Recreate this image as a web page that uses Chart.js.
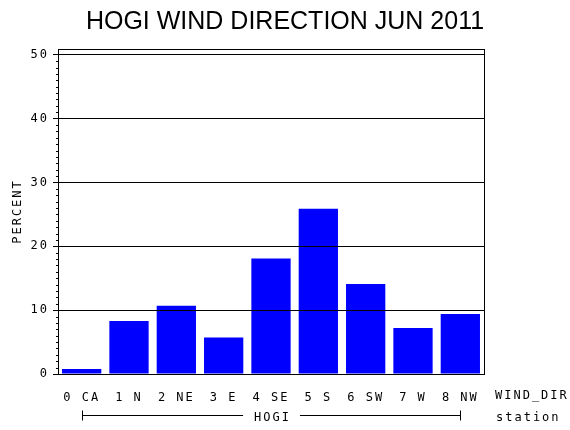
<!DOCTYPE html>
<html>
<head>
<meta charset="utf-8">
<script src="https://cdn.jsdelivr.net/npm/chart.js@4"></script>
<style>
html,body{margin:0;padding:0;background:#fff;}
#wrap{width:570px;height:430px;position:relative;}
</style>
</head>
<body>
<div id="wrap"><canvas id="c"></canvas></div>
<script>
const categories = ['0 CA','1 N','2 NE','3 E','4 SE','5 S','6 SW','7 W','8 NW'];
const percentValues = [0.8, 8.3, 10.7, 5.7, 18.1, 25.9, 14.1, 7.2, 9.4];
const titleText = 'HOGI WIND DIRECTION JUN 2011';
const yAxisTitle = 'PERCENT';
const xAxisName = 'WIND_DIR';
const groupName = 'HOGI';
const groupAxisName = 'station';

const MONO = "'DejaVu Sans Mono', 'Liberation Mono', monospace";

const decorPlugin = {
  id: 'decor',
  beforeDraw(chart) {
    chart.ctx.letterSpacing = '0px';
  },
  afterDatasetsDraw(chart) {
    chart.ctx.letterSpacing = '2px';
  },
  afterDraw(chart) {
    const ctx = chart.ctx;
    const ca = chart.chartArea;
    const y = chart.scales.y;
    const x = chart.scales.x;
    ctx.save();
    ctx.letterSpacing = '2px';
    ctx.strokeStyle = '#000';
    ctx.lineWidth = 1;
    ctx.beginPath();
    // top frame line
    const ty = Math.round(ca.top) + 0.5;
    ctx.moveTo(ca.left, ty);
    ctx.lineTo(ca.right, ty);
    // minor ticks every 1 unit
    for (let v = 1; v < 50; v++) {
      if (v % 10 === 0) continue;
      const py = Math.round(y.getPixelForValue(v)) + 0.5;
      ctx.moveTo(ca.left - 2, py);
      ctx.lineTo(ca.left, py);
    }
    ctx.stroke();
    ctx.fillStyle = '#000';
    ctx.font = '12px ' + MONO;
    ctx.textBaseline = 'middle';
    ctx.textAlign = 'left';
    ctx.fillText(xAxisName, ca.right + 11, ca.bottom + 22);
    ctx.fillText(groupAxisName, ca.right + 12, ca.bottom + 44);
    // group bracket
    const x0 = Math.round(x.getPixelForValue(0)) + 0.5;
    const x1 = Math.round(x.getPixelForValue(categories.length - 1)) + 0.5;
    const ly = Math.round(ca.bottom + 41) + 0.5;
    const mid = (x0 + x1) / 2;
    const tw = ctx.measureText(groupName).width;
    const gap = tw / 2 + 10;
    ctx.beginPath();
    ctx.moveTo(x0, ly); ctx.lineTo(mid - gap, ly);
    ctx.moveTo(mid + gap, ly); ctx.lineTo(x1, ly);
    ctx.moveTo(x0, ly - 5); ctx.lineTo(x0, ly + 5);
    ctx.moveTo(x1, ly - 5); ctx.lineTo(x1, ly + 5);
    ctx.stroke();
    ctx.textAlign = 'center';
    ctx.fillText(groupName, mid + 1, ly + 2);
    ctx.restore();
    ctx.letterSpacing = '0px';
  }
};

new Chart(document.getElementById('c'), {
  type: 'bar',
  data: {
    labels: categories,
    datasets: [{
      data: percentValues,
      backgroundColor: '#0000FF',
      borderWidth: 0,
      barPercentage: 0.83,
      categoryPercentage: 1.0
    }]
  },
  options: {
    responsive: true,
    maintainAspectRatio: false,
    animation: false,
    devicePixelRatio: 1,
    layout: { padding: 0 },
    plugins: {
      legend: { display: false },
      tooltip: { enabled: false },
      title: {
        display: true,
        text: titleText,
        color: '#000',
        font: { family: "'Liberation Sans', Arial, sans-serif", size: 25, weight: 'normal', lineHeight: 1.2 },
        padding: { top: 7, bottom: 12 }
      }
    },
    scales: {
      x: {
        type: 'category',
        offset: true,
        grid: { display: false, drawTicks: false, tickLength: 0 },
        border: { display: true, color: '#000', width: 1, z: 1 },
        ticks: { color: '#000', font: { family: MONO, size: 12 }, padding: 17, maxRotation: 0, autoSkip: false, z: 1 },
        afterFit(s) { s.height = 56; }
      },
      y: {
        type: 'linear',
        position: 'left',
        min: 0,
        max: 50.9,
        grid: {
          color: '#000',
          lineWidth: 1,
          tickLength: 5,
          tickColor: '#000',
          z: 1
        },
        border: { display: true, color: '#000', width: 1, z: 1 },
        ticks: {
          stepSize: 10,
          includeBounds: false,
          color: '#000',
          font: { family: MONO, size: 12 },
          padding: 4,
          z: 1
        },
        title: {
          display: true,
          text: yAxisTitle,
          color: '#000',
          font: { family: MONO, size: 12 },
          padding: { top: 11, bottom: 0 }
        },
        afterFit(s) { s.width = 58; }
      },
      yR: {
        type: 'linear',
        position: 'right',
        min: 0,
        max: 50.9,
        grid: { display: false, drawTicks: false },
        border: { display: true, color: '#000', width: 1, z: 1 },
        ticks: { display: false },
        afterFit(s) { s.width = 86; }
      }
    }
  },
  plugins: [decorPlugin]
});
</script>
</body>
</html>
